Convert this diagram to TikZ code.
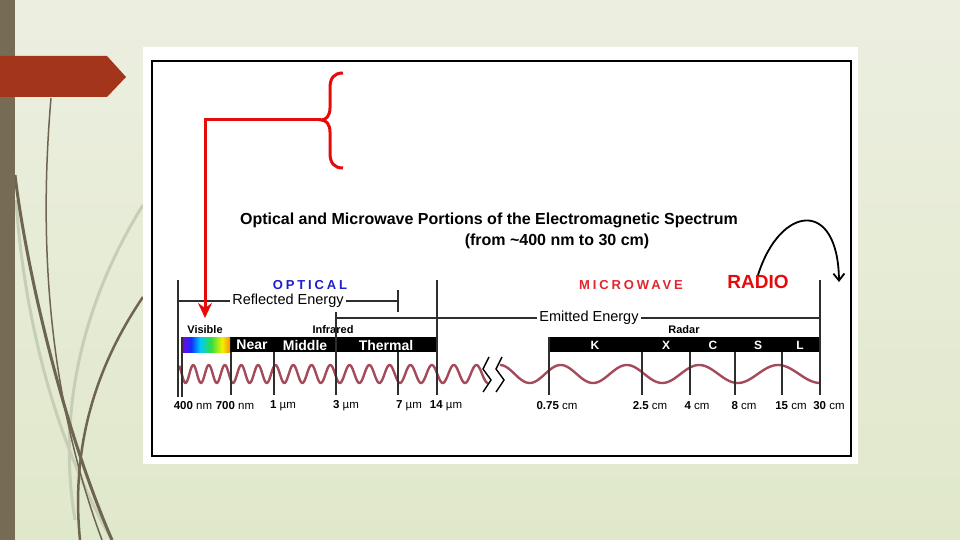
\documentclass[tikz,border=0pt]{standalone}
\usepackage{fontspec}
\setmainfont{Liberation Sans}
\newfontfamily\widesans[LetterSpace=22]{Liberation Sans}
\usetikzlibrary{arrows.meta, positioning, calc}
\definecolor{bgTop}{HTML}{ECEFE0}
\definecolor{bgBottom}{HTML}{E0E8CB}
\definecolor{sideBar}{HTML}{766C55}
\definecolor{tabRust}{HTML}{A3351A}
\definecolor{stemDark}{HTML}{6E6550}
\definecolor{stemLight}{HTML}{C8CEB5}
\definecolor{markRed}{HTML}{E60B0B}
\definecolor{optBlue}{HTML}{1F1FC8}
\definecolor{mwRed}{HTML}{E0262E}
\definecolor{waveRed}{HTML}{A44B5B}
\definecolor{scaleGray}{HTML}{2E2E2E}
\definecolor{vViolet}{HTML}{8000E0}
\definecolor{vBlue}{HTML}{1030FF}
\definecolor{vCyan}{HTML}{00C8FF}
\definecolor{vGreen}{HTML}{30E040}
\definecolor{vYellow}{HTML}{F0F000}
\definecolor{vOrange}{HTML}{FF9000}

\begin{document}
\begin{tikzpicture}[x=1pt, y=-1pt,
      titletxt/.style={inner sep=0pt, font=\bfseries\fontsize{16}{18}\selectfont},
      bandtxt/.style={inner sep=0pt, text=white, font=\bfseries\fontsize{14}{16}\selectfont},
      radartxt/.style={inner sep=0pt, text=white, font=\bfseries\fontsize{12}{14}\selectfont},
      smalltxt/.style={inner sep=0pt, font=\bfseries\fontsize{11}{13}\selectfont},
      ticktxt/.style={inner sep=0pt, font=\fontsize{11.5}{13}\selectfont},
      energy/.style={inner sep=2pt, font=\fontsize{14.5}{16}\selectfont},
      scaleline/.style={draw=scaleGray, line width=1.3pt},
      wave/.style={draw=waveRed, line width=2.4pt, line join=round},
      markline/.style={draw=markRed, line width=3pt}]
    % slide background
    \useasboundingbox (0,0) rectangle (960,540);
    \shade[top color=bgTop, bottom color=bgBottom] (0,0) rectangle (960,540);
    \draw[stemLight, line width=3pt] (143,205) .. controls (90,290) and (55,400) .. (75,520);
    \draw[stemLight, line width=3pt] (16,200) .. controls (25,330) and (60,450) .. (112,540);
    \draw[stemDark, line width=1.5pt] (51,98) .. controls (38,250) and (50,400) .. (102,540);
    \draw[stemDark, line width=3pt] (15,175) .. controls (25,260) and (60,420) .. (112,540);
    \draw[stemDark, line width=2.5pt] (143,297) .. controls (100,360) and (70,440) .. (80,540);
    \fill[sideBar] (0,0) rectangle (15,540);
    \fill[tabRust] (0,56) -- (107,56) -- (126,77) -- (107,97) -- (0,97) -- cycle;

    % figure panel
    \fill[white] (143,47) rectangle (858,464);
    \draw[black, line width=2pt] (152,61) rectangle (851,456);

    \node[titletxt] (title) at (489,220) {Optical and Microwave Portions of the Electromagnetic Spectrum};
    \node[titletxt] (range) at (557,241) {(from \textasciitilde400 nm to 30 cm)};
    \node[inner sep=0pt, text=optBlue, font=\widesans\bfseries\fontsize{13}{15}\selectfont] (optical) at (310,285) {OPTICAL};
    \node[inner sep=0pt, text=mwRed, font=\widesans\bfseries\fontsize{13}{15}\selectfont] (microwave) at (631,285) {MICROWAVE};
    \node[inner sep=0pt, text=markRed, font=\bfseries\fontsize{19}{21}\selectfont] (radio) at (758,282) {RADIO};

    % energy ranges
    \coordinate (reflL) at (178,301);
    \coordinate (reflR) at (398,301);
    \node[energy] (refl) at (288,301) {Reflected Energy};
    \draw[scaleline] (reflL) -- (refl.west);
    \draw[scaleline] (refl.east) -- (reflR);
    \draw[scaleline] (398,290) -- (398,312);
    \coordinate (emitL) at (336,318);
    \coordinate (emitR) at (820,318);
    \node[energy] (emit) at (589,318) {Emitted Energy};
    \draw[scaleline] (emitL) -- (emit.west);
    \draw[scaleline] (emit.east) -- (emitR);

    \node[smalltxt] (visible) at (205,330) {Visible};
    \node[smalltxt] (infrared) at (333,330) {Infrared};
    \node[smalltxt] (radar) at (684,330) {Radar};

    % bands
    \fill[black] (182,337) rectangle (437,352);
    \fill[black] (549,337) rectangle (820,352);
    \foreach \xa/\xb/\ca/\cb in {182/191/vViolet/vBlue, 191/200/vBlue/vCyan, 200/211/vCyan/vGreen,
                                 211/222/vGreen/vYellow, 222/230/vYellow/vOrange}
      \shade[left color=\ca, right color=\cb] (\xa,337) rectangle (\xb,352);
    \node[bandtxt] (near) at (252,345) {Near};
    \node[bandtxt] (middle) at (305,345) {Middle};
    \node[bandtxt] (thermal) at (386,345) {Thermal};
    \foreach \x/\b in {595/K, 666/X, 713/C, 758/S, 800/L}
      \node[radartxt] (band\b) at (\x,345) {\b};

    % waves
    \draw[wave] plot[domain=179:488, samples=400, variable=\t]
      (\t, {374 - 9*cos(360*ln(1+0.0263*(\t-178)/15)/0.0263)});
    \draw[wave] plot[domain=500:820, samples=200, variable=\t]
      (\t, {374 - 9*cos(360*ln(1+0.088*(\t-500)/58)/0.088)});
    \foreach \dx in {0,13}
      \draw[black, line width=1.4pt] ({489+\dx},357) -- ({483+\dx},369) -- ({491+\dx},380) -- ({483+\dx},392);

    % scale ticks
    \foreach \x/\ya/\yb in {178/280/397, 182/337/397, 231/352/395, 274/352/395, 336/312/395,
                            398/352/395, 437/280/395, 549/337/395, 642/352/395, 690/352/395,
                            735/352/395, 782/352/395, 820/280/395}
      \draw[scaleline] (\x,\ya) -- (\x,\yb);
    \foreach \cx/\txt [count=\i] in {193/{\textbf{400} nm}, 235/{\textbf{700} nm}, 283/{\textbf{1} µm},
                                     346/{\textbf{3} µm}, 409/{\textbf{7} µm}, 446/{\textbf{14} µm},
                                     557/{\textbf{0.75} cm}, 650/{\textbf{2.5} cm}, 697/{\textbf{4} cm},
                                     744/{\textbf{8} cm}, 791/{\textbf{15} cm}, 829/{\textbf{30} cm}}
      \node[ticktxt] (tick\i) at (\cx,406) {\txt};

    % red brace and pointer
    \draw[markline] (343,73) .. controls (334,73) and (330,78) .. (330,88) -- (330,108)
      .. controls (330,116) and (326,120) .. (321,120) .. controls (326,120) and (330,124) .. (330,132)
      -- (330,153) .. controls (330,163) and (334,168) .. (343,168);
    \coordinate (bracetip) at (321,120);
    \coordinate (vispoint) at (205,318);
    \draw[markline, -{Stealth[length=15pt, width=14pt, inset=5pt]}] (bracetip) -| (vispoint);

    % radio pointer
    \coordinate (radioend) at (839,282);
    \draw[black, line width=1.8pt, -{Straight Barb[length=7pt, width=11pt]}]
      (radio.north) .. controls (780,205) and (838,198) .. (radioend);
\end{tikzpicture}
\end{document}
